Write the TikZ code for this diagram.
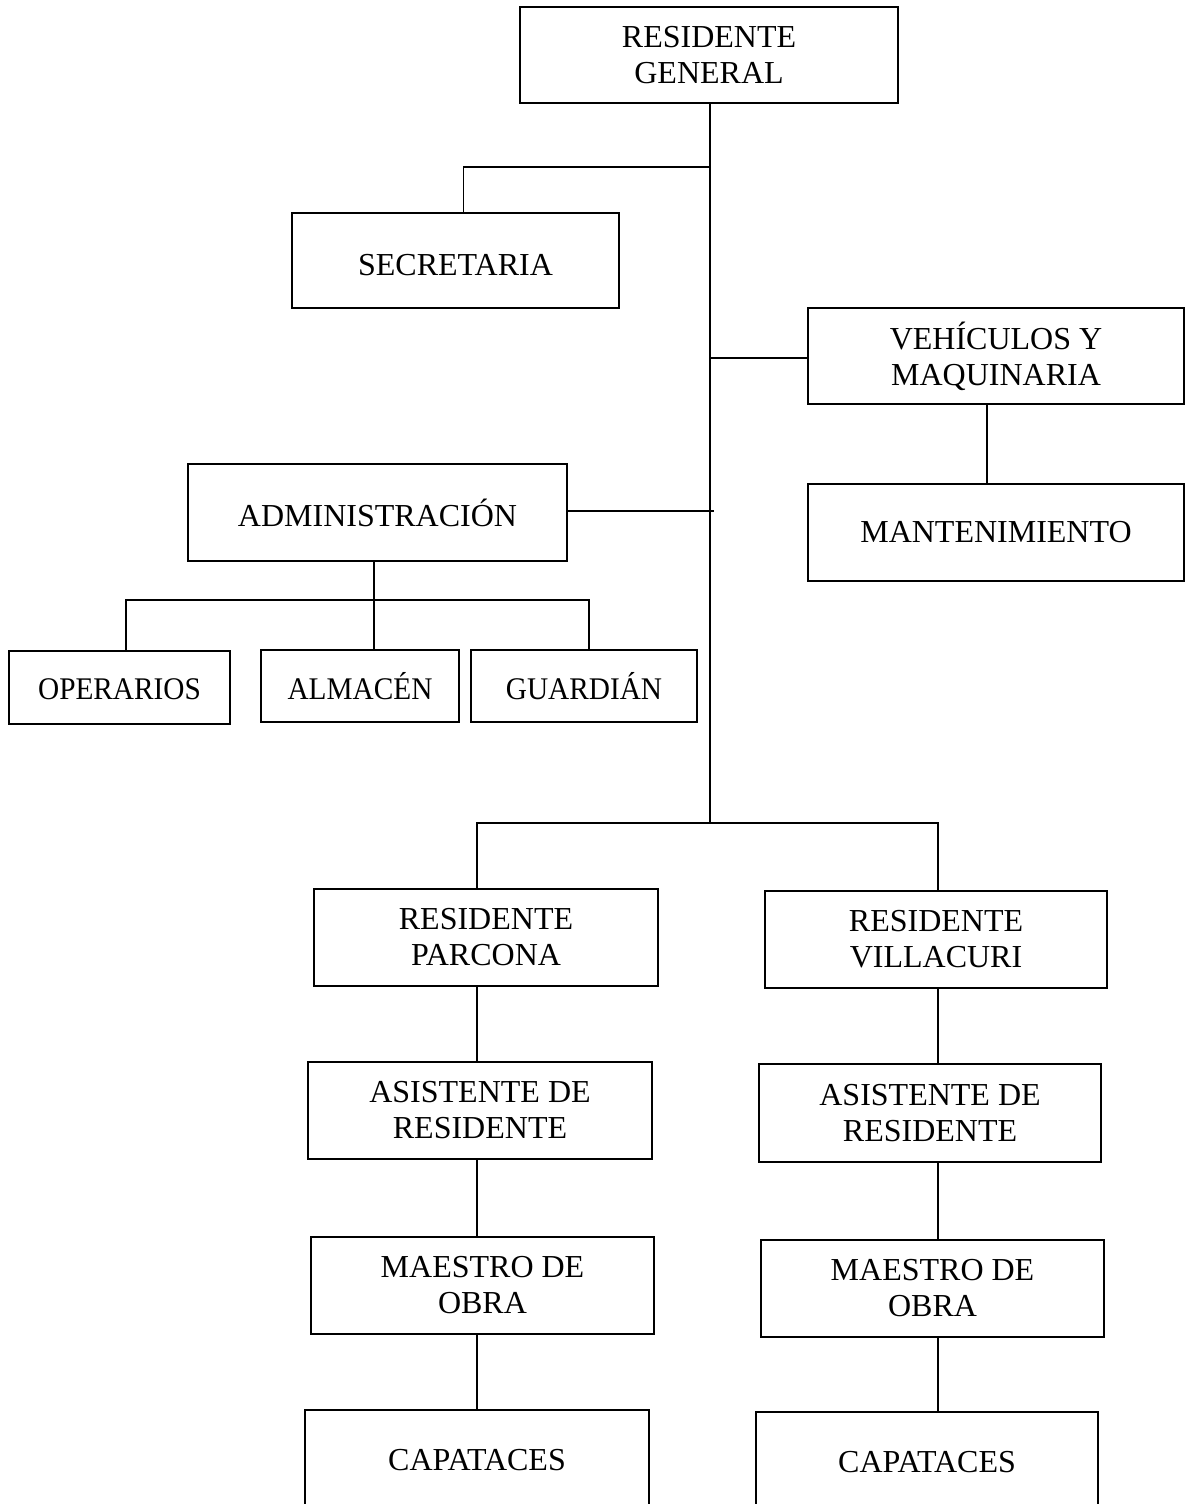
\documentclass[tikz,border=0pt]{standalone}
\usepackage{fontspec}
\setmainfont{Liberation Serif}
\begin{document}
\begin{tikzpicture}[x=1pt,y=-1pt,line width=1.6pt,
  bx/.style={draw,line width=1.6pt,inner sep=0pt,align=center,font=\fontsize{32}{36}\selectfont},
  sm/.style={bx,font=\fontsize{31.5}{34}\selectfont}]
\useasboundingbox (0,0) rectangle (1186,1504);
\clip (0,0) rectangle (1186,1504);
\fill[white] (0,0) rectangle (1186,1504);
\node[bx,minimum width=378pt,minimum height=96pt] (rg) at (709,55) {RESIDENTE\\GENERAL};
\node[bx,minimum width=327pt,minimum height=95pt] (sec) at (455.5,260.5) {\raisebox{-15pt}[0pt][0pt]{SECRETARIA}};
\node[bx,minimum width=376pt,minimum height=96pt] (veh) at (996,356) {VEHÍCULOS Y\\MAQUINARIA};
\node[bx,minimum width=376pt,minimum height=97pt] (mant) at (996,532.5) {MANTENIMIENTO};
\node[bx,minimum width=379pt,minimum height=97pt] (adm) at (377.5,512.5) {ADMINISTRACIÓN};
\node[sm,minimum width=221pt,minimum height=73pt] (ope) at (119.5,687.5) {\raisebox{-12pt}[0pt][0pt]{\scalebox{0.93}[1]{OPERARIOS}}};
\node[sm,minimum width=198pt,minimum height=72pt] (alm) at (360,686) {\scalebox{0.93}[1]{ALMACÉN}};
\node[sm,minimum width=226pt,minimum height=72pt] (gua) at (584,686) {\scalebox{0.93}[1]{GUARDIÁN}};
\node[bx,minimum width=344pt,minimum height=97pt] (rp) at (486,937.5) {RESIDENTE\\PARCONA};
\node[bx,minimum width=342pt,minimum height=97pt] (rv) at (936,939.5) {RESIDENTE\\VILLACURI};
\node[bx,minimum width=344pt,minimum height=97pt] (al) at (480,1110.5) {ASISTENTE DE\\RESIDENTE};
\node[bx,minimum width=342pt,minimum height=98pt] (ar) at (930,1113) {ASISTENTE DE\\RESIDENTE};
\node[bx,minimum width=343pt,minimum height=97pt] (ml) at (482.5,1285.5) {MAESTRO DE\\OBRA};
\node[bx,minimum width=343pt,minimum height=97pt] (mr) at (932.5,1288.5) {MAESTRO DE\\OBRA};
\node[bx,minimum width=344pt,minimum height=100pt] (cl) at (477,1460) {CAPATACES};
\node[bx,minimum width=342pt,minimum height=100pt] (cr) at (927,1462) {CAPATACES};
% junctions
\coordinate (bot) at (710,823);
\coordinate (j1) at (710,167);
\coordinate (jv) at (710,358);
\coordinate (ja) at (714,511);
\coordinate (ab) at (374,600);
% connectors
\draw ([xshift=1]rg.south) -- (bot);
\draw (j1) -| ([xshift=8]sec.north);
\draw (jv) -- (jv -| veh.west);
\draw ([xshift=-9]veh.south) -- ([xshift=-9]mant.north);
\draw ([yshift=1.5]adm.east) -- (ja);
\draw ([xshift=-3.5]adm.south) -- (ab);
\draw ([xshift=6.5]ope.north) |- (ab) -| ([xshift=5]gua.north);
\draw (ab) -- (ab |- alm.north);
\draw ([xshift=-9]rp.north) |- (bot) -| ([xshift=2]rv.north);
\draw ([xshift=-9]rp.south) -- ([xshift=-9]rp.south |- al.north);
\draw ([xshift=2]rv.south) -- ([xshift=2]rv.south |- ar.north);
\draw ([xshift=-3]al.south) -- ([xshift=-3]al.south |- ml.north);
\draw ([xshift=8]ar.south) -- ([xshift=8]ar.south |- mr.north);
\draw ([xshift=-5.5]ml.south) -- ([xshift=-5.5]ml.south |- cl.north);
\draw ([xshift=5.5]mr.south) -- ([xshift=5.5]mr.south |- cr.north);
\end{tikzpicture}
\end{document}
